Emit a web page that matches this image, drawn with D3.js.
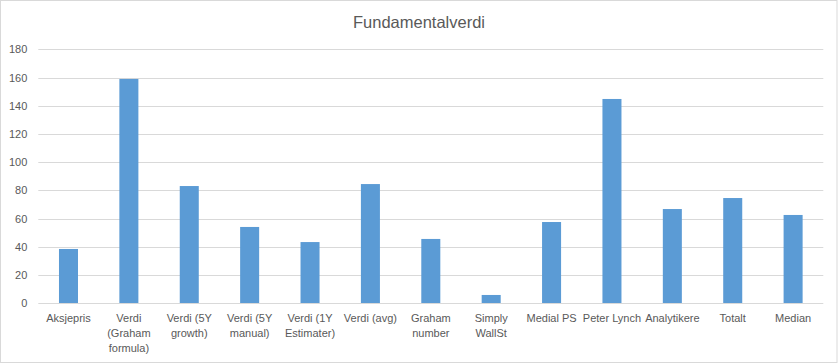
<!DOCTYPE html>
<html>
<head>
<meta charset="utf-8">
<script src="https://cdn.jsdelivr.net/npm/d3@7"></script>
<style>
  html, body { margin: 0; padding: 0; background: #fff; }
  svg { display: block; }
  text { font-family: "Liberation Sans", Arial, sans-serif; fill: #595959; }
</style>
</head>
<body>
<svg id="chart" width="838" height="364"></svg>
<script>
const title = "Fundamentalverdi";
const categories = [
  "Aksjepris",
  "Verdi\n(Graham\nformula)",
  "Verdi (5Y\ngrowth)",
  "Verdi (5Y\nmanual)",
  "Verdi (1Y\nEstimater)",
  "Verdi (avg)",
  "Graham\nnumber",
  "Simply\nWallSt",
  "Medial PS",
  "Peter Lynch",
  "Analytikere",
  "Totalt",
  "Median"
];
const values = [38.5, 159, 83.1, 54.1, 43.4, 84.5, 45.6, 5.9, 57.6, 144.8, 66.8, 74.6, 62.6];
const yTicks = [0, 20, 40, 60, 80, 100, 120, 140, 160, 180];

const W = 838, H = 364;
const margin = { left: 38.3, right: 838 - 823.3, top: 49.3, bottom: 364 - 303.3 };
const svg = d3.select("#chart");

svg.append("rect")
  .attr("x", 0.5).attr("y", 0.5)
  .attr("width", W - 1.5).attr("height", H - 2)
  .attr("fill", "#fff").attr("stroke", "#d9d9d9");

const x = d3.scaleBand()
  .domain(categories)
  .range([margin.left, W - margin.right])
  .paddingInner(0.685).paddingOuter(0.3425);

const y = d3.scaleLinear()
  .domain([0, 180])
  .range([H - margin.bottom, margin.top]);

// gridlines
svg.append("g")
  .selectAll("line")
  .data(yTicks.filter(d => d !== 0))
  .join("line")
  .attr("x1", margin.left).attr("x2", W - margin.right)
  .attr("y1", d => Math.round(y(d)) + 0.5).attr("y2", d => Math.round(y(d)) + 0.5)
  .attr("stroke", "#d9d9d9").attr("stroke-width", 1);

// bars
svg.append("g")
  .selectAll("rect")
  .data(values)
  .join("rect")
  .attr("x", (d, i) => x(categories[i]))
  .attr("width", x.bandwidth())
  .attr("y", d => y(d))
  .attr("height", d => y(0) - y(d))
  .attr("fill", "#5b9bd5");

// y axis
const yAxis = d3.axisLeft(y).tickValues(yTicks).tickSize(0).tickPadding(11);
const gy = svg.append("g")
  .attr("transform", `translate(${margin.left},0)`)
  .call(yAxis);
gy.select(".domain").remove();
gy.selectAll("text")
  .style("font-family", '"Liberation Sans", Arial, sans-serif')
  .style("font-size", "11px")
  .attr("fill", "#595959");

// x axis
const xAxis = d3.axisBottom(x).tickSize(0).tickFormat("");
const gx = svg.append("g")
  .attr("transform", `translate(0,${Math.round(y(0)) + 0.5})`)
  .call(xAxis);
gx.select(".domain").attr("stroke", "#d9d9d9")
  .attr("d", `M${margin.left},0H${W - margin.right}`);

gx.selectAll(".tick").each(function(d) {
  const lines = d.split("\n");
  const t = d3.select(this).append("text")
    .attr("text-anchor", "middle")
    .style("font-size", "11px")
    .attr("fill", "#595959");
  lines.forEach((ln, i) => {
    t.append("tspan").attr("x", 0).attr("y", 18.5 + i * 15).text(ln);
  });
});

// title
svg.append("text")
  .attr("x", 419).attr("y", 28)
  .attr("text-anchor", "middle")
  .style("font-size", "16.5px")
  .attr("fill", "#595959")
  .text(title);
</script>
</body>
</html>
